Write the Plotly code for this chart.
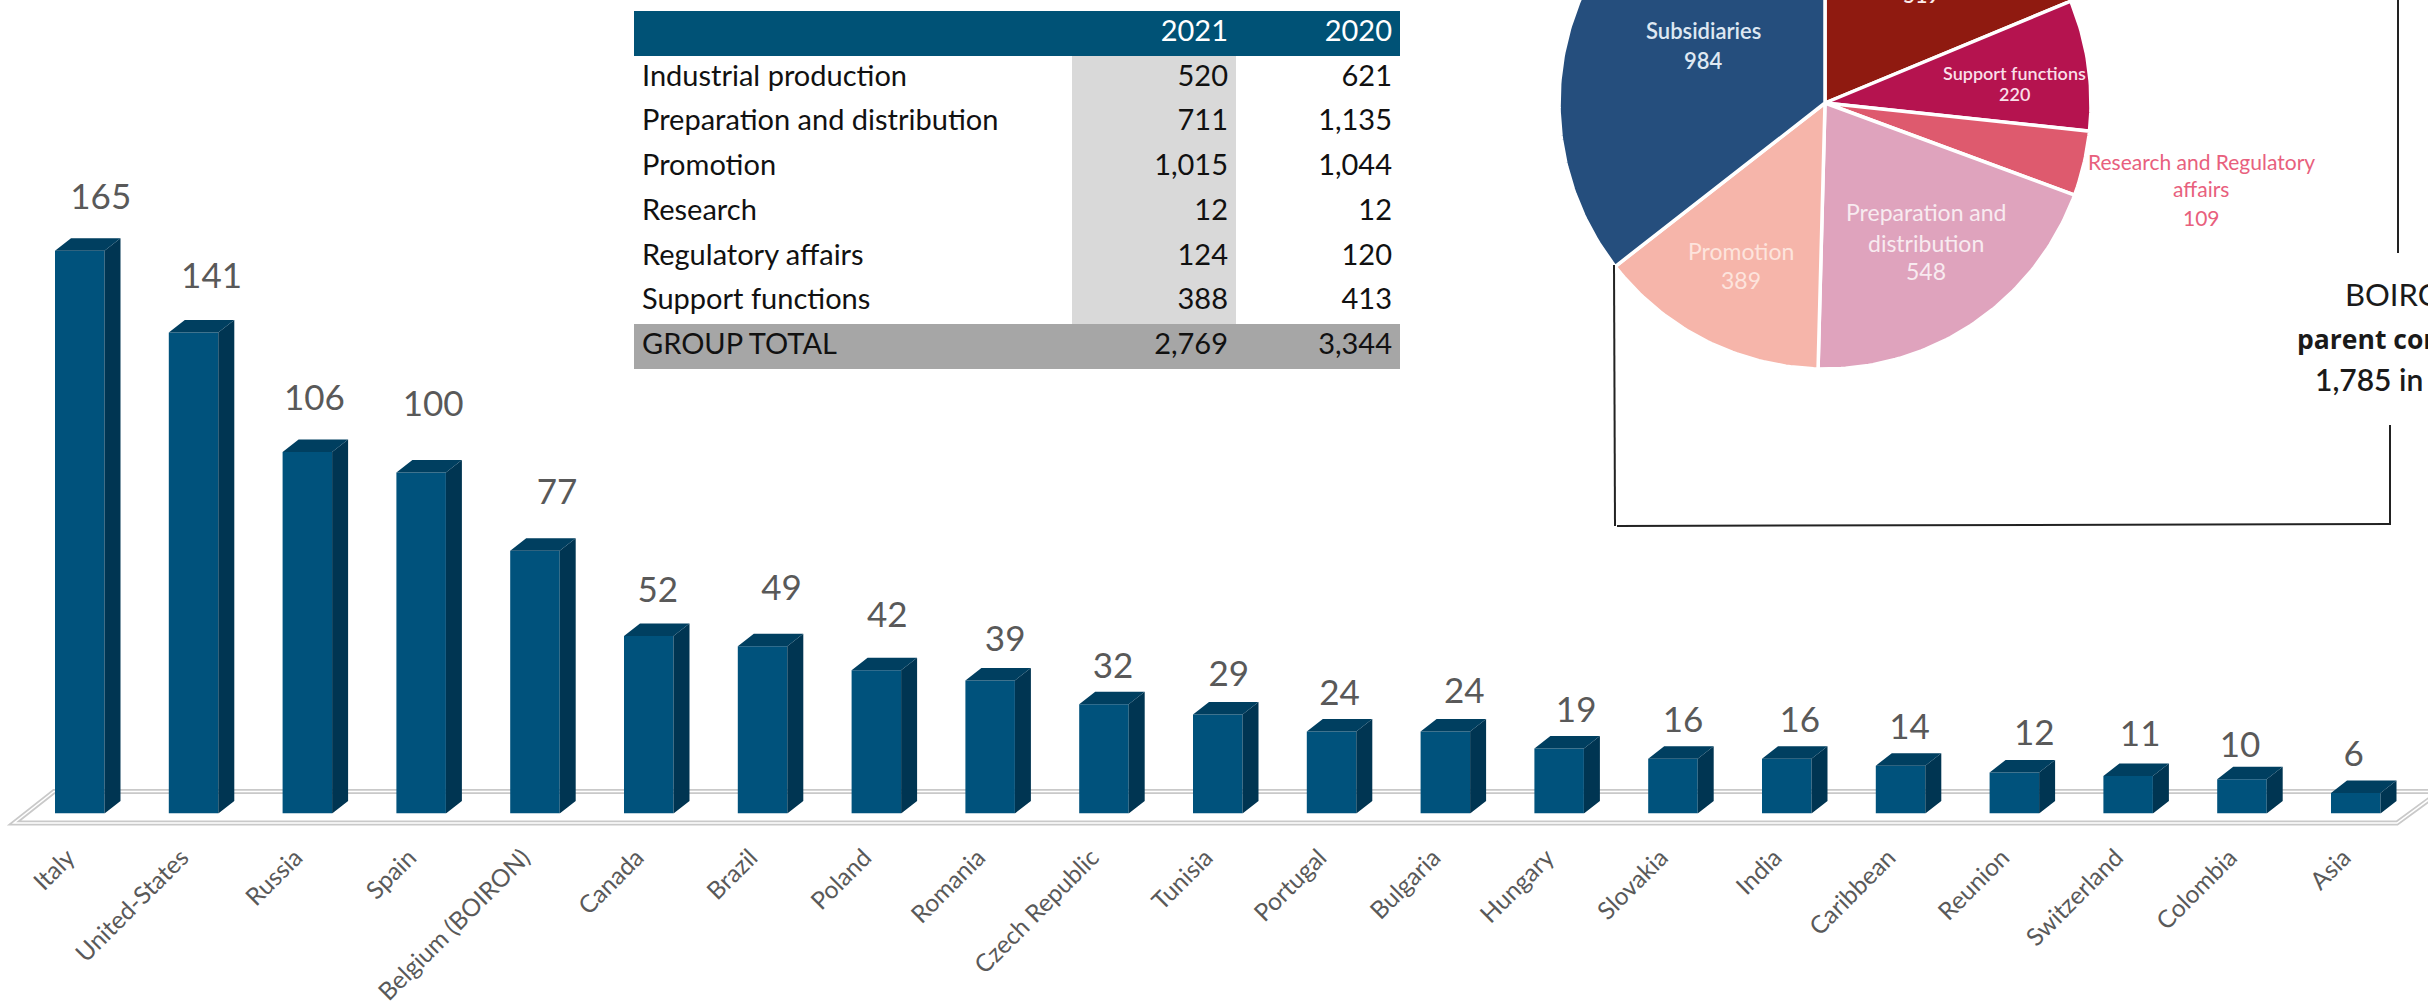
import math
import plotly.graph_objects as go

# ---------- data ----------
countries = ["Italy", "United-States", "Russia", "Spain", "Belgium (BOIRON)", "Canada", "Brazil",
             "Poland", "Romania", "Czech Republic", "Tunisia", "Portugal", "Bulgaria", "Hungary",
             "Slovakia", "India", "Caribbean", "Reunion", "Switzerland", "Colombia", "Asia"]
headcount = [165, 141, 106, 100, 77, 52, 49, 42, 39, 32, 29, 24, 24, 19, 16, 16, 14, 12, 11, 10, 6]

table_labels = ["Industrial production", "Preparation and distribution", "Promotion", "Research",
                "Regulatory affairs", "Support functions", "GROUP TOTAL"]
table_2021 = ["520", "711", "1,015", "12", "124", "388", "2,769"]
table_2020 = ["621", "1,135", "1,044", "12", "120", "413", "3,344"]

pie_values = [519, 220, 109, 548, 389, 984]
pie_colors = ["#8f1a10", "#b5134f", "#de5a6e", "#dfa3bd", "#f6b5aa", "#254e7d"]

# ---------- layout constants (pixels of the 2428x1004 page) ----------
W, H = 2428, 1004
BASE_Y = 813.4
PX_PER_UNIT = 3.41
PITCH = 113.8
FIRST_CENTER = 79.75
BAR_W = 49.5
DEPTH_X, DEPTH_Y = 16, 12.5
TICK_SHIFT_PX = -12
label_dx_px = [21, 18, 7, 12, 22, 9, 19, 11, 15, 9, 11, 8, 19, 17, 10, 13, 9, 20, 12, -2, -2]
label_dy_px = [51, 53, 51, 65, 56, 43, 55, 52, 38, 35, 37, 35, 37, 35, 36, 36, 35, 36, 39, 31, 36]

FONT = "Lato"
GREY = "#595959"

idx = list(range(len(countries)))
bw = BAR_W / PITCH
ddx = DEPTH_X / PITCH
ddy = DEPTH_Y / PX_PER_UNIT

fig = go.Figure()

# front faces
fig.add_trace(go.Bar(x=idx, y=headcount, width=bw, marker=dict(color="#00527c", line=dict(width=0)),
                     hoverinfo="skip", showlegend=False))

# side and top faces, derived from the values
side_x, side_y, top_x, top_y = [], [], [], []
for i, v in zip(idx, headcount):
    x1 = i + bw / 2
    x0 = i - bw / 2
    side_x += [x1, x1 + ddx, x1 + ddx, x1, x1, None]
    side_y += [0, ddy, v + ddy, v, 0, None]
    top_x += [x0, x0 + ddx, x1 + ddx, x1, x0, None]
    top_y += [v, v + ddy, v + ddy, v, v, None]
fig.add_trace(go.Scatter(x=side_x, y=side_y, mode="lines", fill="toself", fillcolor="#003552",
                         line=dict(width=0, color="#003552"), hoverinfo="skip", showlegend=False))
fig.add_trace(go.Scatter(x=top_x, y=top_y, mode="lines", fill="toself", fillcolor="#003f60",
                         line=dict(width=0, color="#003f60"), hoverinfo="skip", showlegend=False))

# value labels
fig.add_trace(go.Scatter(
    x=[i + d / PITCH for i, d in zip(idx, label_dx_px)],
    y=[v + d / PX_PER_UNIT for v, d in zip(headcount, label_dy_px)],
    text=[str(v) for v in headcount], mode="text", textposition="middle center",
    textfont=dict(family=FONT, size=35, color=GREY), cliponaxis=False,
    hoverinfo="skip", showlegend=False))

# pie (cropped by the top of the page), wedges derived from the values
CX, CY, R = 1825, 103, 266
total = sum(pie_values)
angle = 0.0
for val, col in zip(pie_values, pie_colors):
    sweep = 360.0 * val / total
    n = max(2, int(sweep) + 1)
    angs = [math.radians(angle + sweep * k / n) for k in range(n + 1)]
    xs = [CX] + [CX + R * math.sin(a) for a in angs] + [CX]
    ys = [CY] + [CY - R * math.cos(a) for a in angs] + [CY]
    fig.add_trace(go.Scatter(x=xs, y=ys, xaxis="x2", yaxis="y2", mode="lines", fill="toself",
                             fillcolor=col, line=dict(color="white", width=3.5),
                             hoverinfo="skip", showlegend=False))
    angle += sweep

# table
n_rows = len(table_labels)
fig.add_trace(go.Table(
    domain=dict(x=[634 / W, 1400 / W], y=[1 - 369 / H, 1 - 11 / H]),
    columnwidth=[438, 164, 164],
    header=dict(values=["", "2021", "2020"], height=45, align=["left", "right", "right"],
                fill_color="#005276", line=dict(width=0, color="#005276"),
                font=dict(family=FONT, size=29, color="white")),
    cells=dict(values=[table_labels, table_2021, table_2020], height=44.7,
               align=["left", "right", "right"],
               fill_color=[["white"] * (n_rows - 1) + ["#a6a6a6"],
                           ["#d9d9d9"] * (n_rows - 1) + ["#a6a6a6"],
                           ["white"] * (n_rows - 1) + ["#a6a6a6"]],
               line=dict(width=0, color="white"),
               font=dict(family=FONT, size=29, color="#111111"))))


# floor of the 3D chart, on paper coordinates so that it stays under the bars
def pp(x, y):
    return f"{x / W:.5f} {1 - y / H:.5f}"


floor = f"M {pp(14, 823)} L {pp(2397, 823)} L {pp(2440, 791.5)} L {pp(54, 791.5)} Z"
shapes = [
    dict(type="path", path=floor, xref="paper", yref="paper", layer="below",
         fillcolor="white", line=dict(color="#c9c9c9", width=5)),
    dict(type="path", path=floor, xref="paper", yref="paper", layer="below",
         line=dict(color="white", width=1.5)),
]
# frame round the pie
for x0, y0, x1, y1 in [(1614, 265, 1615, 526), (1617, 526, 2391, 524),
                       (2390, 425, 2390, 524), (2398, 0, 2398, 253)]:
    shapes.append(dict(type="line", x0=x0, y0=y0, x1=x1, y1=y1, xref="x2", yref="y2",
                       line=dict(color="#222222", width=2)))


def note(x, y, text, size, color, anchor="center", weight=None, family=FONT):
    return dict(x=x, y=y, xref="x2", yref="y2", text=text, showarrow=False, xanchor=anchor,
                yanchor="middle", align="center",
                font=dict(family=family, size=size, color=color, weight=weight))


annotations = [
    note(1703, 30, "Subsidiaries", 22, "#dfe8f2", weight=600), note(1703, 60, "984", 22, "#dfe8f2", weight=600),
    dict(x=1921, y=0, xref="x2", yref="y2", yanchor="bottom", yshift=-9, text="519", showarrow=False,
         font=dict(family=FONT, size=21, color="#fbeaea", weight=600)),
    note(2014, 73, "Support functions", 18, "#f9dfe8", weight=600), note(2014, 94, "220", 18, "#f9dfe8", weight=600),
    note(2201, 161, "Research and Regulatory", 21, "#e8607d"),
    note(2201, 188, "affairs", 21, "#e8607d"), note(2201, 217, "109", 21, "#e8607d"),
    note(1926, 212, "Preparation and", 23, "#f8ebf0"), note(1926, 243, "distribution", 23, "#f8ebf0"),
    note(1926, 271, "548", 23, "#f8ebf0"),
    note(1741, 251, "Promotion", 23, "#fde4dd"), note(1741, 280, "389", 23, "#fde4dd"),
    note(2343, 294, "BOIRON", 31, "#1a1a1a", "left"),
    note(2295, 339, "parent company", 26.5, "#1a1a1a", "left", 700, "Open Sans"),
    note(2313, 379, "1,785 in 2021", 30, "#1a1a1a", "left", 600),
]

fig.update_layout(
    width=W, height=H, autosize=False, margin=dict(l=0, r=0, t=0, b=0),
    paper_bgcolor="white", plot_bgcolor="rgba(0,0,0,0)", showlegend=False,
    xaxis=dict(domain=[0, 1], range=[(0 - FIRST_CENTER) / PITCH, (W - FIRST_CENTER) / PITCH],
               tickmode="array", tickvals=[i + TICK_SHIFT_PX / PITCH for i in idx],
               ticktext=countries, tickangle=-45, automargin=False,
               tickfont=dict(family=FONT, size=24.5, color=GREY), ticks="", showgrid=False,
               zeroline=False, showline=False, ticklabelstandoff=24),
    yaxis=dict(domain=[(H - BASE_Y) / H, 1], range=[0, BASE_Y / PX_PER_UNIT], visible=False,
               automargin=False),
    xaxis2=dict(domain=[0, 1], range=[0, W], visible=False, anchor="y2", automargin=False),
    yaxis2=dict(domain=[0, 1], range=[H, 0], visible=False, anchor="x2", automargin=False),
    shapes=shapes, annotations=annotations,
)

fig.write_html("out.html", post_script="document.body.style.margin='0';",
               config=dict(displayModeBar=False))
